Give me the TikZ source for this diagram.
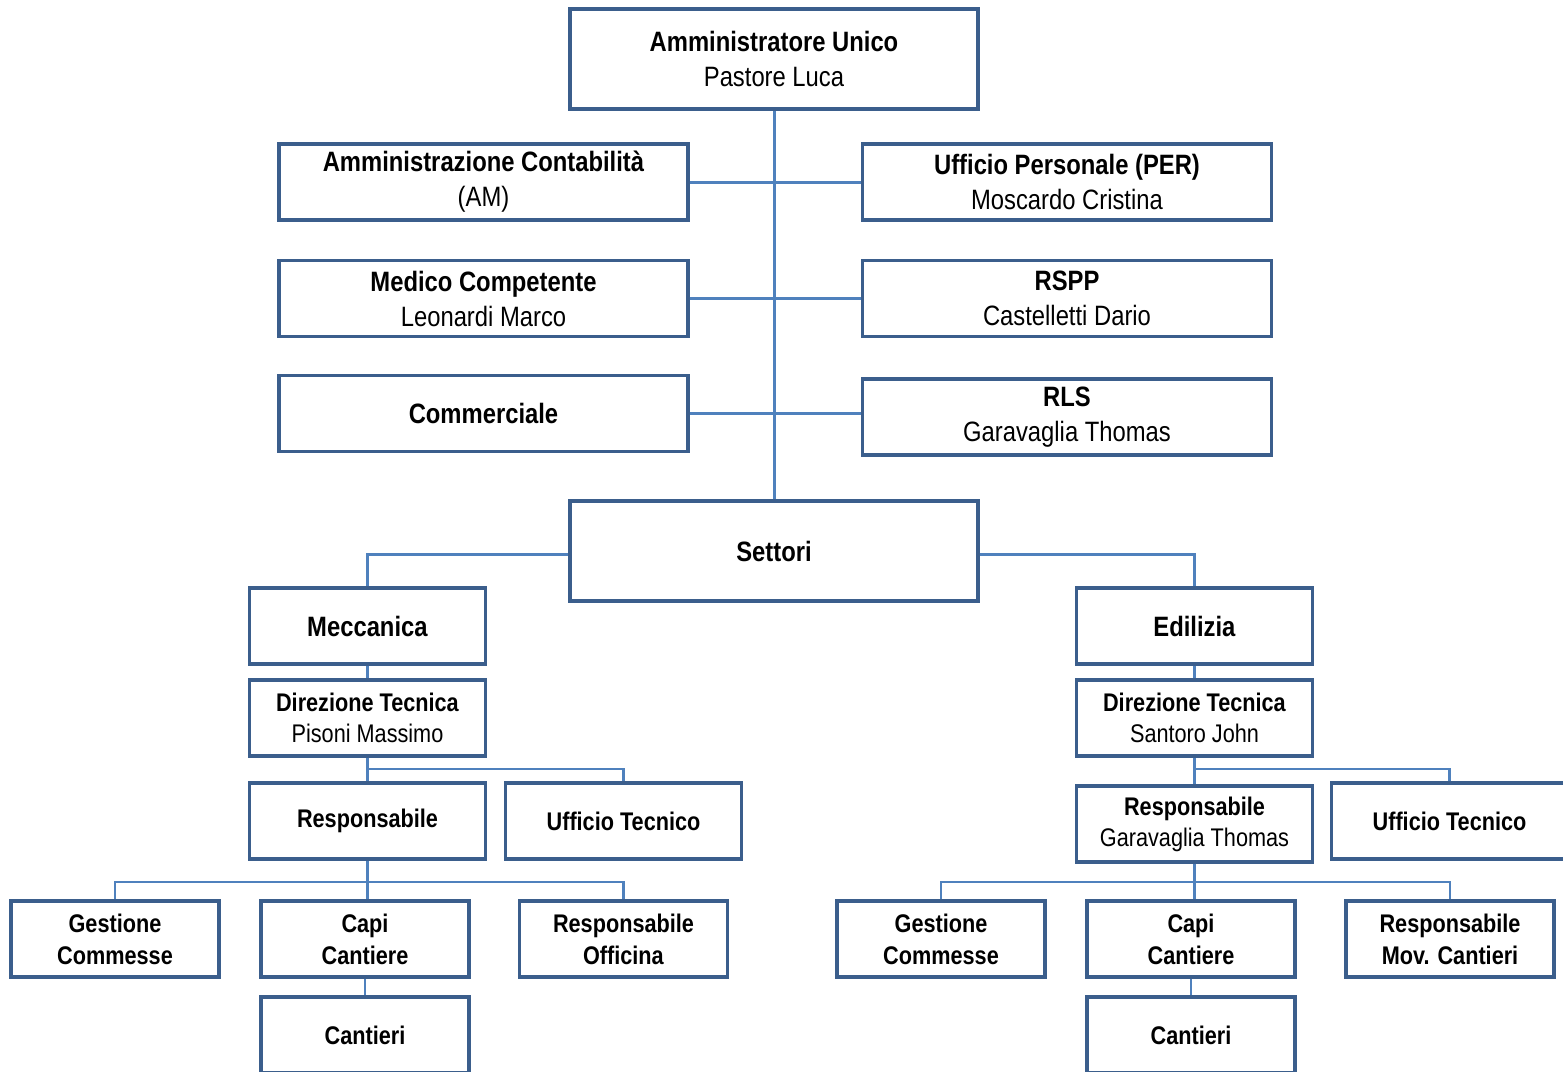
\documentclass[tikz,border=0pt]{standalone}
\usepackage{fontspec}
\setmainfont{Liberation Sans}[FakeStretch=0.85]
\definecolor{boxblue}{HTML}{3B5E8C}
\definecolor{lineblue}{HTML}{4F81BD}
\tikzset{
	box/.style={draw=boxblue, line width=1.7pt, fill=white, rectangle, align=center, inner sep=0pt},
	big/.style={box, minimum width=204pt, minimum height=50pt, font=\fontsize{14}{17.5}\selectfont},
	wide/.style={box, minimum width=204.5pt, minimum height=38pt, font=\fontsize{14}{17.5}\selectfont},
	sector/.style={box, minimum width=118pt, minimum height=38pt, font=\fontsize{14}{17.5}\selectfont},
	mid/.style={box, minimum width=118pt, minimum height=38pt, font=\fontsize{12.75}{15.5}\selectfont},
	small/.style={box, minimum width=104pt, minimum height=38pt, font=\fontsize{12.75}{16}\selectfont},
	link/.style={draw=lineblue, line width=1.5pt},
	sublink/.style={draw=lineblue, line width=1.1pt}
}
\begin{document}
\begin{tikzpicture}[x=0.5pt, y=-0.5pt]
		\clip (0,0) rectangle (1563,1071);
		\fill[white] (0,0) rectangle (1563,1071);
		
		% vertice
		\node[big] at (774,59) (AU) {\textbf{Amministratore Unico}\\Pastore Luca};
		\node[wide] at (483.5,182) (AM) {\textbf{Amministrazione Contabilità}\\(AM)};
		\node[wide] at (1067,182) (PER) {\textbf{Ufficio Personale (PER)}\\Moscardo Cristina};
		\node[wide] at (483.5,298.5) (MC) {\textbf{Medico Competente}\\Leonardi Marco};
		\node[wide] at (1067,298.5) (RSPP) {\textbf{RSPP}\\Castelletti Dario};
		\node[wide] at (483.5,413.5) (COM) {\textbf{Commerciale}};
		\node[wide] at (1067,417) (RLS) {\textbf{RLS}\\Garavaglia Thomas};
		\node[big] at (774,551) (SET) {\textbf{Settori}};
		
		% meccanica
		\node[sector] at (367.5,626) (MEC) {\textbf{Meccanica}};
		\node[mid] at (367.5,718) (DTL) {\textbf{Direzione Tecnica}\\Pisoni Massimo};
		\node[mid] at (367.5,821) (RL) {\textbf{Responsabile}};
		\node[mid] at (623.5,821) (UTL) {\textbf{Ufficio Tecnico}};
		\node[small] at (115,939) (GCL) {\textbf{Gestione}\\\textbf{Commesse}};
		\node[small] at (365,939) (CCL) {\textbf{Capi}\\\textbf{Cantiere}};
		\node[small] at (623.5,939) (ROF) {\textbf{Responsabile}\\\textbf{Officina}};
		\node[small] at (365,1035) (CNL) {\textbf{Cantieri}};
		
		% edilizia
		\node[sector] at (1194.5,626) (EDI) {\textbf{Edilizia}};
		\node[mid] at (1194.5,718) (DTR) {\textbf{Direzione Tecnica}\\Santoro John};
		\node[mid] at (1194.5,824) (RR) {\textbf{Responsabile}\\Garavaglia Thomas};
		\node[mid] at (1449.5,821) (UTR) {\textbf{Ufficio Tecnico}};
		\node[small] at (941,939) (GCR) {\textbf{Gestione}\\\textbf{Commesse}};
		\node[small] at (1191,939) (CCR) {\textbf{Capi}\\\textbf{Cantiere}};
		\node[small] at (1450,939) (RMC) {\textbf{Responsabile}\\\textbf{Mov. Cantieri}};
		\node[small] at (1191,1035) (CNR) {\textbf{Cantieri}};
		
		\coordinate (bl) at (367.5,882);
		\coordinate (br) at (1194.5,882);
		
		\draw[link] (AU) -- (SET);
		\draw[link] (AM) -- (PER);
		\draw[link] (MC) -- (RSPP);
		\draw[link] (COM.east) -- (COM.east -| RLS.west);
		\draw[link] ([yshift=-1.5pt]SET.west) -| (MEC.north);
		\draw[link] ([yshift=-1.5pt]SET.east) -| (EDI.north);
		
		\draw[sublink] (MEC) -- (DTL);
		\draw[sublink] (DTL) -- (RL);
		\draw[sublink] ([yshift=-5.5pt]DTL.south) -| (UTL.north);
		\draw[sublink] (RL.south) -- (RL.south |- CCL.north);
		\draw[sublink] (GCL.north) |- (bl) -| (ROF.north);
		\draw[sublink] (CCL) -- (CNL);
		
		\draw[sublink] (EDI) -- (DTR);
		\draw[sublink] (DTR) -- (RR);
		\draw[sublink] ([yshift=-5.5pt]DTR.south) -| (UTR.north);
		\draw[sublink] (RR.south) -- (RR.south |- CCR.north);
		\draw[sublink] (GCR.north) |- (br) -| (RMC.north);
		\draw[sublink] (CCR) -- (CNR);
\end{tikzpicture}
\end{document}
